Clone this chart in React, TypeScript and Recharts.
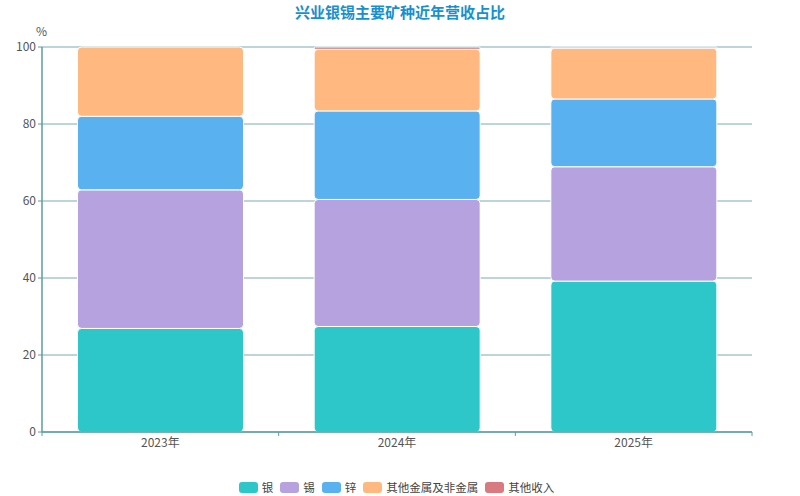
import { BarChart, Bar, XAxis, YAxis, CartesianGrid } from 'recharts'

const years = ['2023年', '2024年', '2025年']
const silver = [26.9, 27.4, 39.2]
const tin = [36.0, 33.0, 29.7]
const zinc = [19.1, 23.0, 17.6]
const otherMetals = [18.0, 16.0, 13.2]
const otherIncome = [0, 0.6, 0.3]
const yTicks = [0, 20, 40, 60, 80, 100]

const series = [
  { key: 'silver', name: '银', color: '#2ec7c9' },
  { key: 'tin', name: '锡', color: '#b6a2de' },
  { key: 'zinc', name: '锌', color: '#5ab1ef' },
  { key: 'otherMetals', name: '其他金属及非金属', color: '#ffb980' },
  { key: 'otherIncome', name: '其他收入', color: '#d87a80' },
]

const data = years.map((year, i) => ({
  year,
  silver: silver[i],
  tin: tin[i],
  zinc: zinc[i],
  otherMetals: otherMetals[i],
  otherIncome: otherIncome[i],
}))

const FONT = '"Noto Sans CJK SC", "Noto Sans", sans-serif'
const AXIS_COLOR = '#5a9da4'
const GRID_COLOR = '#a6c7cb'

function YearTick(props: any) {
  const { x, y, payload, index, width, visibleTicksCount } = props
  const band = (width || 710) / (visibleTicksCount || years.length)
  const axisY = y - 4
  return (
    <g>
      <line x1={x - band / 2} y1={axisY} x2={x - band / 2} y2={axisY + 4} stroke={AXIS_COLOR} strokeWidth={1} />
      {index === years.length - 1 && (
        <line x1={x + band / 2} y1={axisY} x2={x + band / 2} y2={axisY + 4} stroke={AXIS_COLOR} strokeWidth={1} />
      )}
      <text x={x} y={y + 2} dy="0.71em" textAnchor="middle" fill="#555" fontSize={12} fontFamily={FONT}>
        {payload.value}
      </text>
    </g>
  )
}

export default function App() {
  return (
    <div style={{ position: 'absolute', left: 0, top: 0, width: 800, height: 496, background: '#fff', fontFamily: FONT }}>
      <div style={{
        position: 'absolute',
        top: 1,
        width: 800,
        textAlign: 'center',
        color: '#1790cf',
        fontSize: 15,
        fontWeight: 'bold',
      }}>
        兴业银锡主要矿种近年营收占比
      </div>
      <div style={{ position: 'absolute', left: 36, top: 22, fontSize: 12, color: '#555' }}>%</div>

      <BarChart
        width={800}
        height={496}
        data={data}
        margin={{ top: 47, right: 48, bottom: 34, left: 0 }}
        barCategoryGap="15%"
      >
        <CartesianGrid vertical={false} stroke={GRID_COLOR} strokeWidth={1.5} />
        <XAxis
          dataKey="year"
          axisLine={{ stroke: AXIS_COLOR, strokeWidth: 1.5 }}
          tickLine={false}
          tickSize={4}
          tickMargin={0}
          height={30}
          tick={<YearTick />}
          interval={0}
        />
        <YAxis
          domain={[0, 100]}
          ticks={yTicks}
          width={42}
          axisLine={{ stroke: AXIS_COLOR, strokeWidth: 1.5 }}
          tickLine={{ stroke: AXIS_COLOR }}
          tickSize={4}
          tickMargin={2}
          tick={{ fill: '#555', fontSize: 12, fontFamily: FONT }}
        />
        {series.map(s => (
          <Bar
            key={s.key}
            dataKey={s.key}
            name={s.name}
            stackId="a"
            fill={s.color}
            stroke="#fff"
            strokeWidth={1}
            radius={[4, 4, 4, 4]}
            isAnimationActive={false}
          />
        ))}
      </BarChart>

      <div style={{
        position: 'absolute',
        top: 479,
        width: 800,
        display: 'flex',
        justifyContent: 'center',
        alignItems: 'center',
        fontSize: 11.5,
        color: '#444',
      }}>
        {series.map(s => (
          <div key={s.key} style={{ display: 'flex', alignItems: 'center', marginRight: 7 }}>
            <span style={{ display: 'inline-block', width: 19, height: 11, borderRadius: 3, background: s.color, marginRight: 4 }} />
            <span>{s.name}</span>
          </div>
        ))}
      </div>
    </div>
  )
}
